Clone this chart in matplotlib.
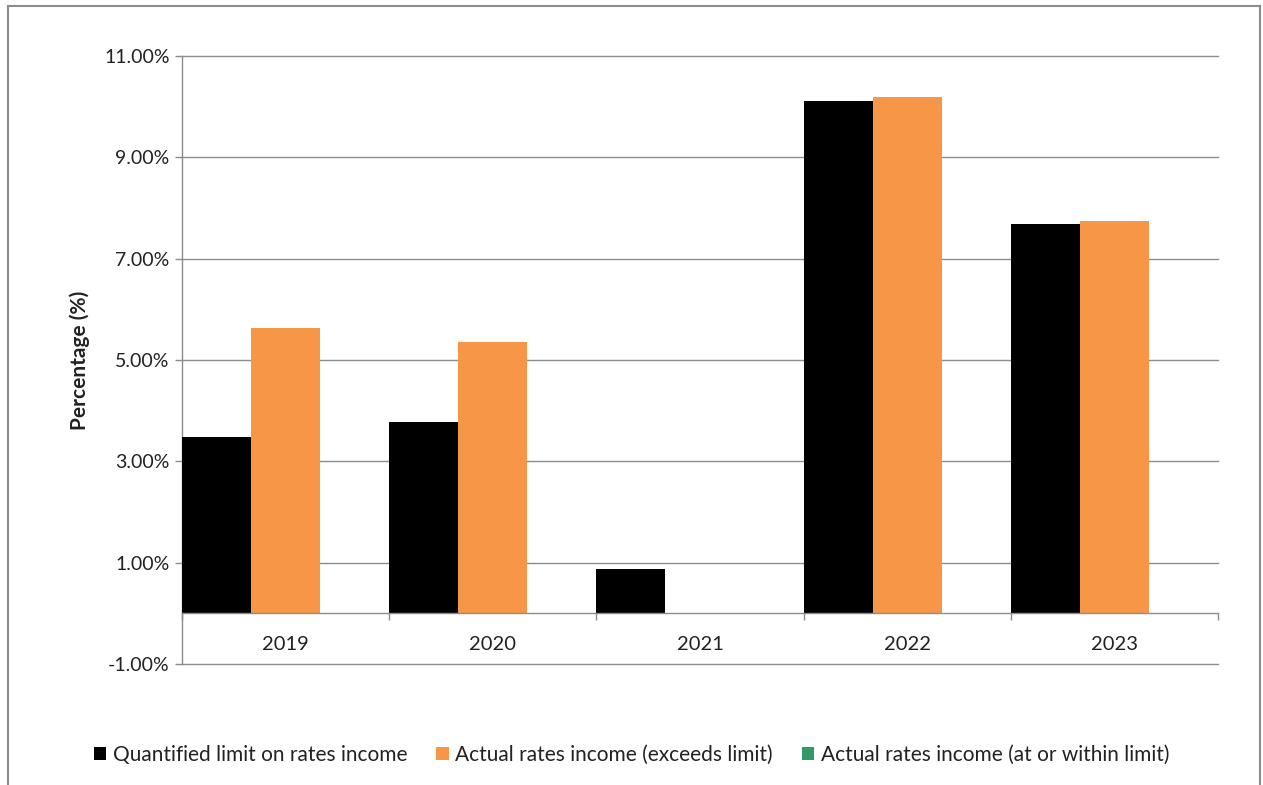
import numpy as np
import matplotlib.pyplot as plt
from matplotlib.lines import Line2D
from matplotlib.ticker import FixedLocator

plt.rcParams['font.family'] = ['Lato', 'DejaVu Sans']

years = ["2019", "2020", "2021", "2022", "2023"]
limit = [3.48, 3.78, 0.87, 10.11, 7.68]
exceeds = [5.63, 5.35, 0.0, 10.19, 7.75]
within = [0.0, 0.0, 0.0, 0.0, 0.0]
series_names = ["Quantified limit on rates income",
                "Actual rates income (exceeds limit)",
                "Actual rates income (at or within limit)"]
colors = ["#000000", "#F79646", "#339966"]
grey = "#8c8c8c"

W, H = 1263, 785
fig = plt.figure(figsize=(W / 100, H / 100), dpi=100)
ax = fig.add_axes([182 / W, 1 - 664 / H, (1218 - 182) / W, (664 - 56) / H])

x = np.arange(len(years))
w = 1 / 3
for k, (vals, name, c) in enumerate(zip([limit, exceeds, within], series_names, colors)):
    ax.bar(x + (k - 1) * w, vals, width=w, color=c, label=name, zorder=3)

ax.set_xlim(-0.5, len(years) - 0.5)
ax.set_ylim(-1, 11)
yt = np.arange(-1, 11.1, 2)
ax.set_yticks(yt)
ax.set_yticklabels([f"{v:.2f}%" for v in yt])
for v in yt:
    ax.axhline(v, color=grey, linewidth=1.0, zorder=0, clip_on=False)
ax.tick_params(axis='y', length=5, width=1.0, color=grey, labelsize=14, pad=4, labelcolor="#222222")

ax.set_xticks(x)
ax.set_xticklabels(years)
ax.xaxis.set_minor_locator(FixedLocator(np.arange(-0.5, len(years), 1)))
ax.tick_params(axis='x', which='major', length=0, labelsize=14.5, pad=16, labelcolor="#222222")
ax.tick_params(axis='x', which='minor', length=5, width=1.0, color=grey)

for s in ['top', 'right']:
    ax.spines[s].set_visible(False)
ax.spines['left'].set_color(grey)
ax.spines['left'].set_linewidth(1.0)
ax.spines['bottom'].set_position(('data', 0))
ax.spines['bottom'].set_color(grey)
ax.spines['bottom'].set_linewidth(1.0)
ax.spines['bottom'].set_zorder(4)

ax.set_ylabel("Percentage (%)", fontsize=15, fontweight='bold', labelpad=10, color="#222222")

fig.legend(loc='center', bbox_to_anchor=(0.5, 1 - 755 / H), ncol=3, frameon=False,
           fontsize=15, handlelength=0.6, handleheight=0.6, handletextpad=0.3,
           columnspacing=1.4, labelcolor="#222222")

# outer chart frame
for xs, ys in [([8, 1260], [6, 6]), ([8, 8], [6, 785]), ([1260, 1260], [6, 785])]:
    fig.add_artist(Line2D([v / W for v in xs], [1 - v / H for v in ys],
                          color=grey, linewidth=1.5, transform=fig.transFigure))

fig.savefig("out.png", dpi=100)
